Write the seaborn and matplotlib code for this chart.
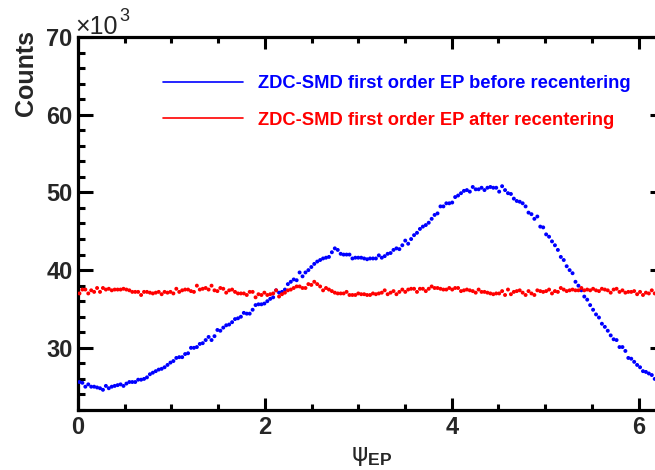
import numpy as np
import pandas as pd
import matplotlib
matplotlib.use("Agg")
import matplotlib.pyplot as plt
import seaborn as sns
from matplotlib.lines import Line2D
from matplotlib.ticker import MultipleLocator

# ---- data (counts in units of 10^3), 200 bins over [0, 2*pi) ----
before = [
    25.6, 25.5, 25.0, 25.3, 25.0, 25.0, 24.9, 24.8, 24.6, 25.1,
    24.8, 25.0, 25.1, 25.2, 25.3, 25.1, 25.4, 25.6, 25.6, 25.6,
    25.9, 25.9, 26.0, 26.2, 26.6, 26.8, 27.0, 27.2, 27.3, 27.5,
    27.8, 28.1, 28.3, 28.7, 28.8, 28.8, 29.2, 29.3, 30.0, 30.0,
    30.1, 30.5, 30.6, 31.0, 31.4, 31.0, 31.5, 32.3, 32.2, 32.6,
    32.9, 33.0, 33.3, 33.7, 33.8, 34.0, 34.5, 34.4, 34.4, 34.9,
    35.5, 35.6, 35.6, 35.7, 36.0, 36.3, 36.5, 37.4, 37.1, 37.2,
    37.5, 38.2, 38.5, 38.8, 38.7, 39.7, 39.2, 39.7, 40.0, 40.4,
    40.8, 41.1, 41.3, 41.5, 41.6, 41.7, 42.3, 42.8, 42.6, 42.1,
    42.0, 42.0, 42.0, 41.5, 41.6, 41.6, 41.6, 41.5, 41.4, 41.5,
    41.5, 41.5, 41.9, 41.6, 41.8, 42.1, 42.2, 42.6, 42.8, 42.7,
    43.2, 43.8, 43.4, 44.0, 44.5, 44.8, 45.3, 45.6, 45.8, 46.1,
    46.6, 47.1, 47.3, 48.2, 48.2, 48.6, 48.6, 48.7, 49.4, 49.6,
    49.9, 50.2, 50.3, 50.1, 50.7, 50.4, 50.4, 50.6, 50.3, 50.6,
    50.7, 50.6, 50.6, 50.1, 50.8, 50.3, 49.9, 49.8, 49.2, 48.9,
    48.8, 48.6, 48.2, 47.4, 47.2, 46.6, 46.9, 45.6, 45.5, 44.6,
    44.3, 43.7, 43.2, 42.6, 41.7, 41.3, 40.5, 40.0, 39.6, 38.5,
    38.0, 37.4, 36.6, 36.2, 35.5, 34.9, 34.3, 33.9, 33.1, 32.7,
    32.2, 31.6, 31.1, 31.0, 30.1, 30.1, 29.6, 28.7, 28.6, 28.2,
    27.8, 27.5, 27.0, 26.9, 26.7, 26.5, 26.0, 25.8, 25.7, 25.6,
]
after = [
    37.0, 37.5, 37.5, 37.0, 37.4, 37.2, 37.7, 37.2, 37.7, 37.5,
    37.6, 37.4, 37.5, 37.5, 37.5, 37.6, 37.5, 37.4, 37.2, 37.2,
    37.2, 36.8, 37.2, 37.2, 37.1, 37.0, 37.1, 37.2, 36.9, 37.2,
    37.1, 37.2, 37.0, 37.6, 37.2, 37.4, 37.5, 37.5, 37.3, 37.2,
    38.0, 37.5, 37.6, 37.7, 37.5, 38.0, 37.4, 37.3, 37.7, 37.6,
    37.1, 37.4, 37.5, 37.2, 37.0, 37.0, 37.0, 36.8, 37.2, 37.2,
    36.5, 36.9, 36.8, 37.1, 36.8, 36.9, 37.0, 37.4, 36.6, 36.9,
    37.1, 37.4, 37.5, 37.7, 37.9, 37.9, 37.7, 37.7, 38.2, 38.1,
    38.5, 38.2, 37.9, 37.4, 37.7, 37.5, 37.3, 37.1, 37.0, 37.0,
    37.0, 37.2, 36.8, 36.8, 36.8, 37.0, 36.9, 36.9, 36.8, 36.8,
    37.0, 36.9, 37.0, 37.1, 37.4, 36.9, 37.1, 37.3, 36.9, 37.2,
    37.5, 37.2, 37.5, 37.6, 37.6, 37.2, 37.6, 37.6, 37.3, 37.6,
    37.9, 37.7, 37.7, 37.6, 37.5, 37.5, 37.7, 37.5, 37.7, 37.7,
    37.3, 37.4, 37.5, 37.4, 37.3, 37.1, 37.5, 37.2, 37.2, 37.1,
    37.0, 36.9, 37.0, 37.0, 37.3, 36.8, 37.5, 36.9, 37.2, 37.3,
    37.4, 37.1, 36.8, 37.3, 37.0, 36.8, 37.4, 37.3, 37.2, 37.3,
    37.5, 37.0, 37.3, 37.2, 37.7, 37.5, 37.3, 37.4, 37.5, 37.4,
    37.4, 37.7, 37.4, 37.5, 37.4, 37.6, 37.4, 37.3, 37.6, 37.5,
    37.4, 37.1, 37.5, 37.6, 37.2, 37.4, 37.1, 37.2, 37.2, 37.3,
    36.9, 37.2, 36.8, 37.1, 37.0, 37.4, 37.0, 37.2, 37.1, 37.2,
]
series_labels = ["ZDC-SMD first order EP before recentering",
                 "ZDC-SMD first order EP after recentering"]
series_colors = ["#0000ff", "#ff0000"]
x_range = (0.0, 2 * np.pi)
y_range = (22, 70)
x_major, x_minor = 2, 0.5
y_major, y_minor = 10, 2

# ---- style ----
sns.set_style("ticks")
plt.rcParams["font.family"] = ["Liberation Sans", "DejaVu Sans"]
plt.rcParams["mathtext.fontset"] = "custom"
plt.rcParams["mathtext.rm"] = "Liberation Sans"
plt.rcParams["mathtext.it"] = "DejaVu Sans"
plt.rcParams["mathtext.bf"] = "Liberation Sans:bold"

n_bins = len(before)
centers = x_range[0] + (np.arange(n_bins) + 0.5) * (x_range[1] - x_range[0]) / n_bins
df = pd.DataFrame({
    "psi": np.concatenate([centers, centers]),
    "counts": before + after,
    "series": [series_labels[0]] * n_bins + [series_labels[1]] * len(after),
})

fig = plt.figure(figsize=(6.55, 4.70), dpi=100)
ax = fig.add_axes([78 / 655, 60 / 470, 587 / 655, 373 / 470])

sns.scatterplot(data=df, x="psi", y="counts", hue="series",
                palette=dict(zip(series_labels, series_colors)),
                s=8, linewidth=0, legend=False, ax=ax, zorder=3)

ax.set_xlim(*x_range)
ax.set_ylim(*y_range)
ax.xaxis.set_major_locator(MultipleLocator(x_major))
ax.xaxis.set_minor_locator(MultipleLocator(x_minor))
ax.yaxis.set_major_locator(MultipleLocator(y_major))
ax.yaxis.set_minor_locator(MultipleLocator(y_minor))

for sp in ax.spines.values():
    sp.set_visible(True)
    sp.set_linewidth(2.3)
    sp.set_color("black")

ax.tick_params(which="both", direction="in", top=True, right=True,
               width=2.2, color="black", labelsize=17, pad=4)
ax.tick_params(axis="x", which="major", length=8.5)
ax.tick_params(axis="x", which="minor", length=4.3)
ax.tick_params(axis="y", which="major", length=11)
ax.tick_params(axis="y", which="minor", length=5)
for lbl in ax.get_xticklabels() + ax.get_yticklabels():
    lbl.set_fontweight("bold")

ax.set_ylabel("Counts", fontsize=18, fontweight="bold", loc="top")
ax.yaxis.set_label_coords(-0.068, 1.019)
ax.set_xlabel(r"$\psi_{\mathbf{EP}}$", fontsize=18, labelpad=4)

fig.text(75 / 655, 1 - 34 / 470, "\u00d710", fontsize=18,
         ha="left", va="baseline")
fig.text(119 / 655, 1 - 21 / 470, "3", fontsize=13,
         ha="left", va="baseline")

handles = [Line2D([0], [0], color=c, lw=1.2) for c in series_colors]
ax.legend(handles, series_labels, loc="upper left",
          bbox_to_anchor=(163 / 655, 1 - 75 / 470), bbox_transform=fig.transFigure,
          frameon=False, prop={"weight": "bold", "size": 13.2},
          labelcolor=series_colors, handlelength=4.35, handletextpad=0.85,
          labelspacing=1.08, borderpad=0, borderaxespad=0)

fig.savefig("out.png", dpi=100)
